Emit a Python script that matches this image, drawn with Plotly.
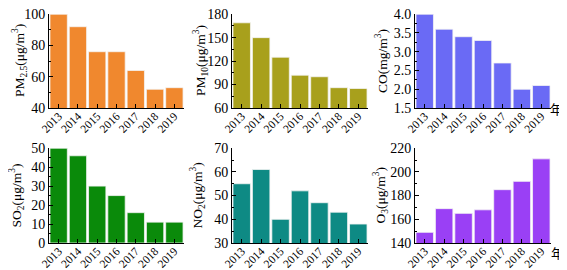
import plotly.graph_objects as go

years = ["2013", "2014", "2015", "2016", "2017", "2018", "2019"]
pm25 = [100, 92, 76, 76, 64, 52, 53]
pm10 = [169, 150, 125, 102, 100, 86, 85]
co = [4.0, 3.6, 3.4, 3.3, 2.7, 2.0, 2.1]
so2 = [50, 46, 30, 25, 16, 11, 11]
no2 = [55, 61, 40, 52, 47, 43, 38]
o3 = [149, 169, 165, 168, 185, 192, 211]

titles = ["PM<sub>2.5</sub>(μg/m<sup>3</sup>)", "PM<sub>10</sub>(μg/m<sup>3</sup>)", "CO(mg/m<sup>3</sup>)",
          "SO<sub>2</sub>(μg/m<sup>3</sup>)", "NO<sub>2</sub>(μg/m<sup>3</sup>)", "O<sub>3</sub>(μg/m<sup>3</sup>)"]
series = [pm25, pm10, co, so2, no2, o3]
colors = ["#F0882E", "#A8A01C", "#6A6AF5", "#0A8A0A", "#0E8A84", "#9A40F5"]
yranges = [(40, 100), (60, 180), (1.5, 4.0), (0, 50), (30, 70), (140, 220)]
dticks = [20, 30, 0.5, 10, 10, 20]

W, H = 567, 270
xdoms = [(41, 176), (224, 360), (407, 543)]
ydoms = [(6, 100), (140, 235)]
title_x = [[11, 192, 373], [9, 190, 373]]

font = "Liberation Serif, Times New Roman, serif"
fig = go.Figure()
layout = {}
annots = []
for i in range(6):
    r, c = divmod(i, 3)
    ax = "" if i == 0 else str(i + 1)
    fig.add_trace(go.Bar(x=years, y=series[i], marker=dict(color=colors[i], line=dict(color="#F4F4F4", width=0.8)),
                         xaxis="x" + ax, yaxis="y" + ax, showlegend=False))
    x0, x1 = xdoms[c]
    y0, y1 = ydoms[r]
    layout["xaxis" + ax] = dict(domain=[x0 / W, x1 / W], anchor="y" + ax, type="category",
                                range=[-0.5, 6.5], showline=True, linecolor="black", linewidth=1,
                                ticks="inside", ticklen=4, tickwidth=1, tickcolor="black", tickangle=-45,
                                tickfont=dict(family=font, size=11.5, color="black"),
                                ticklabelstandoff=-4, ticklabeloverflow="allow",
                                showgrid=False, zeroline=False, automargin=False, layer="above traces")
    lo, hi = yranges[i]
    fmt = ".1f" if i == 2 else "d"
    layout["yaxis" + ax] = dict(domain=[1 - y1 / H, 1 - y0 / H], anchor="x" + ax,
                                range=[lo, hi + (hi - lo) * 0.002], dtick=dticks[i], tick0=lo, tickformat=fmt,
                                showline=True, linecolor="black", linewidth=1,
                                ticks="inside", ticklen=4, tickcolor="black",
                                minor=dict(ticks="inside", ticklen=2, dtick=dticks[i] / 2, tickcolor="black"),
                                tickfont=dict(family=font, size=14, color="black"), ticklabeloverflow="allow",
                                ticklabelstandoff=0, layer="above traces",
                                showgrid=False, zeroline=False, automargin=False)
    annots.append(dict(text=titles[i], x=title_x[r][c] / W, y=1 - (y0 + y1) / 2 / H, xref="paper", yref="paper",
                       showarrow=False, textangle=-90, xanchor="center", yanchor="middle",
                       font=dict(family=font, size=13.5, color="black")))

annots += [dict(text="年", x=557 / W, y=1 - 101 / H, xref="paper", yref="paper", showarrow=False,
                font=dict(family="Noto Sans CJK SC", size=13, color="black")),
           dict(text="年", x=558 / W, y=1 - 256 / H, xref="paper", yref="paper", showarrow=False,
                font=dict(family="Noto Sans CJK SC", size=13, color="black"))]

fig.update_layout(**layout)
fig.update_layout(width=W, height=H, margin=dict(l=0, r=0, t=0, b=0), bargap=0.1,
                  plot_bgcolor="white", paper_bgcolor="white", annotations=annots)
fig.write_html("out.html")
